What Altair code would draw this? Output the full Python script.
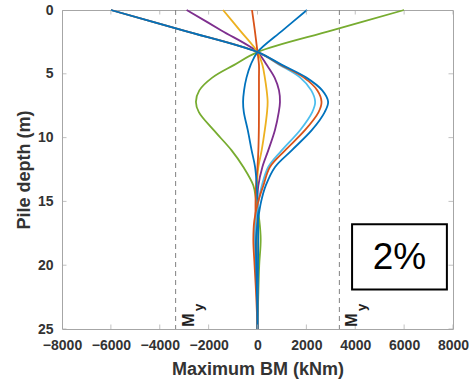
import altair as alt
import pandas as pd

# ---------------- data ----------------
depth = [0, 1.6, 3.3, 4.3, 5.3, 6.3, 7.2, 8.0, 9.4, 11.0, 12.3, 13.75, 15.0, 16.5, 18.0, 20.0, 22.5, 25.0]

bm_green = [6000, 3050, 0, -950, -1850, -2380, -2520, -2400, -1800, -1060, -580, -170, -50, 75, 130, 70, 30, 0]
bm_purple = [-2900, -1480, 0, 375, 700, 880, 920, 870, 715, 440, 200, 35, -10, -20, -10, 0, 0, 0]
bm_yellow = [-1410, -720, 0, 200, 300, 375, 415, 390, 300, 170, 35, -20, -20, -10, 0, 0, 0, 0]
bm_orange_thin = [-225, -110, 0, 60, 60, 60, 60, 60, 55, 35, 0, -60, -80, -80, -70, -50, -20, 0]
bm_blue_inner = [2025, 1030, 0, -280, -450, -550, -590, -560, -400, -240, -100, -30, 0, 20, 30, 20, 10, 0]
bm_lightblue = [-6000, -3050, 0, 900, 1750, 2200, 2360, 2240, 1750, 990, 440, 180, 40, -80, -110, -70, -30, 0]
bm_red = [-6000, -3050, 0, 950, 1900, 2450, 2620, 2500, 1950, 1130, 510, 240, 30, -130, -170, -120, -50, 0]
bm_blue_outer = [-6000, -3050, 0, 1000, 2000, 2650, 2890, 2750, 2230, 1400, 720, 340, 150, 20, -60, -50, -20, 0]

series_names = ["green", "purple", "yellow", "orange", "blue2", "lightblue", "red", "blue1"]
series_values = [bm_green, bm_purple, bm_yellow, bm_orange_thin, bm_blue_inner,
                 bm_lightblue, bm_red, bm_blue_outer]
series_colors = ["#77AC30", "#7E2F8E", "#EDB120", "#D95319", "#0072BD",
                 "#4DBEEE", "#D95319", "#0072BD"]

x_ticks = [-8000, -6000, -4000, -2000, 0, 2000, 4000, 6000, 8000]
y_ticks = [0, 5, 10, 15, 20, 25]
my_values = [-3350, 3350]

# annotation placement (data units)
my_label_depth_M = 24.3
my_label_depth_y = 23.3
box_x = [3870, 7750]
box_depth = [16.8, 21.9]
box_text = "2%"

# ---------------- chart ----------------
FONT = "Liberation Sans"
AX_COLOR = "#a6a6a6"
TXT = "#333333"

xs = alt.Scale(domain=[-8000, 8000], nice=False, zero=False)
ys = alt.Scale(domain=[0, 25], reverse=True, nice=False, zero=False)

xaxis = alt.Axis(values=x_ticks, title="Maximum BM (kNm)", format="d",
                 ticks=False, domain=False, grid=False,
                 labelFont=FONT, labelFontSize=14, labelFontWeight="bold",
                 labelColor=TXT, labelPadding=9, labelFlush=False,
                 titleFont=FONT, titleFontSize=18, titleFontWeight="bold",
                 titleColor=TXT, titlePadding=8)
yaxis = alt.Axis(values=y_ticks, title="Pile depth (m)", format="d",
                 ticks=False, domain=False, grid=False,
                 labelFont=FONT, labelFontSize=14, labelFontWeight="bold",
                 labelColor=TXT, labelPadding=9, labelFlush=False,
                 titleFont=FONT, titleFontSize=18, titleFontWeight="bold",
                 titleColor=TXT, titlePadding=4)


def X(field="bm"):
    return alt.X(f"{field}:Q", scale=xs, axis=xaxis)


def Y(field="depth"):
    return alt.Y(f"{field}:Q", scale=ys, axis=yaxis)


layers = []

# dashed My lines
my_df = pd.DataFrame({"bm": my_values})
layers.append(
    alt.Chart(my_df).mark_rule(color="#808080", strokeWidth=1, strokeDash=[5, 4])
    .encode(x=X())
)

# data lines
for name, vals, col in zip(series_names, series_values, series_colors):
    df = pd.DataFrame({"depth": depth, "bm": vals, "i": list(range(len(depth)))})
    layers.append(
        alt.Chart(df).mark_line(color=col, strokeWidth=1.8, interpolate="catmull-rom")
        .encode(x=X(), y=Y(), order=alt.Order("i:Q"))
    )

# inward ticks (box style)
xt_df = pd.DataFrame({"bm": x_ticks})
yt_df = pd.DataFrame({"depth": y_ticks})
for yv in [0, 319]:
    layers.append(
        alt.Chart(xt_df).mark_tick(color=AX_COLOR, size=9, thickness=1, clip=True)
        .encode(x=X(), y=alt.value(yv))
    )
for xv in [0, 391]:
    layers.append(
        alt.Chart(yt_df).mark_tick(color=AX_COLOR, size=9, thickness=1, clip=True)
        .encode(y=Y(), x=alt.value(xv))
    )

# My labels
m_df = pd.DataFrame({"bm": [v + 535 for v in my_values], "depth": [my_label_depth_M] * 2, "t": ["M", "M"]})
sub_df = pd.DataFrame({"bm": [v + 940 for v in my_values], "depth": [my_label_depth_y] * 2, "t": ["y", "y"]})
layers.append(
    alt.Chart(m_df).mark_text(font=FONT, fontSize=16, fontWeight="bold", angle=270,
                              align="center", baseline="middle", color="#222222")
    .encode(x=X(), y=Y(), text="t:N")
)
layers.append(
    alt.Chart(sub_df).mark_text(font=FONT, fontSize=13, fontWeight="bold", angle=270,
                                align="center", baseline="middle", color="#222222")
    .encode(x=X(), y=Y(), text="t:N")
)

# 2% box
box_df = pd.DataFrame({"bm": [box_x[0]], "bm2": [box_x[1]],
                       "depth": [box_depth[0]], "depth2": [box_depth[1]]})
layers.append(
    alt.Chart(box_df).mark_rect(fill="white", stroke="black", strokeWidth=2)
    .encode(x=X(), x2="bm2:Q", y=Y(), y2="depth2:Q")
)
txt_df = pd.DataFrame({"bm": [(box_x[0] + box_x[1]) / 2],
                       "depth": [(box_depth[0] + box_depth[1]) / 2], "t": [box_text]})
layers.append(
    alt.Chart(txt_df).mark_text(font=FONT, fontSize=37, color="black",
                                align="center", baseline="middle", dy=1)
    .encode(x=X(), y=Y(), text="t:N")
)

chart = alt.layer(*layers).properties(
    width=391, height=319,
    autosize=alt.AutoSizeParams(type="none"),
    padding={"left": 62, "top": 10, "right": 16, "bottom": 52},
    background="white",
).configure_view(stroke=AX_COLOR, strokeWidth=1)

chart.save("out.html", embed_options={"renderer": "svg", "actions": False})
